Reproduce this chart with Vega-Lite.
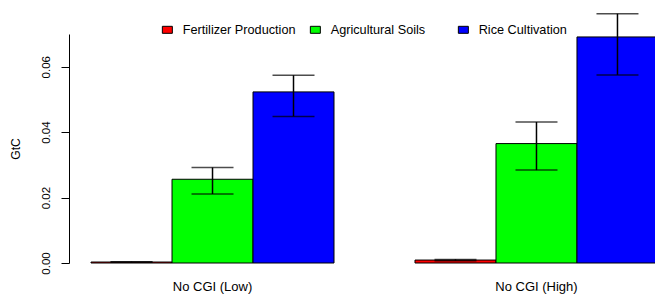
{
  "$schema": "https://vega.github.io/schema/vega-lite/v6.json",
  "autosize": "none",
  "width": 586,
  "height": 229,
  "padding": {"left": 69, "top": 34, "right": 0, "bottom": 34},
  "background": "white",
  "config": {
    "view": {"stroke": null},
    "font": "Liberation Sans",
    "axis": {"labelFont": "Liberation Sans", "titleFont": "Liberation Sans", "labelColor": "black", "titleColor": "black", "grid": false},
    "legend": {"labelFont": "Liberation Sans"}
  },
  "data": {
    "values": [
      {"scenario": "No CGI (Low)", "source": "Fertilizer Production", "value": 0.0003, "lo": 0.0002, "hi": 0.0004},
      {"scenario": "No CGI (Low)", "source": "Agricultural Soils", "value": 0.0256, "lo": 0.0211, "hi": 0.0292},
      {"scenario": "No CGI (Low)", "source": "Rice Cultivation", "value": 0.0523, "lo": 0.0448, "hi": 0.0574},
      {"scenario": "No CGI (High)", "source": "Fertilizer Production", "value": 0.0009, "lo": 0.0007, "hi": 0.0011},
      {"scenario": "No CGI (High)", "source": "Agricultural Soils", "value": 0.0365, "lo": 0.0284, "hi": 0.0431},
      {"scenario": "No CGI (High)", "source": "Rice Cultivation", "value": 0.0691, "lo": 0.0575, "hi": 0.0762}
    ]
  },
  "encoding": {
    "x": {
      "field": "scenario", "type": "nominal", "sort": ["No CGI (Low)", "No CGI (High)"],
      "scale": {"range": [0, 611], "paddingInner": 0.25, "paddingOuter": 0.068},
      "axis": {"title": null, "domain": false, "ticks": false, "labelAngle": 0, "labelFontSize": 13, "labelPadding": 17}
    },
    "xOffset": {
      "field": "source", "type": "nominal",
      "sort": ["Fertilizer Production", "Agricultural Soils", "Rice Cultivation"],
      "scale": {"paddingInner": 0, "paddingOuter": 0}
    }
  },
  "layer": [
    {
      "mark": {"type": "bar", "stroke": "black", "strokeWidth": 1, "clip": false},
      "encoding": {
        "y": {
          "field": "value", "type": "quantitative",
          "scale": {"domain": [0, 0.07], "nice": false, "zero": true},
          "axis": {
            "title": "GtC", "titleFontSize": 12, "titleFontWeight": "normal", "titlePadding": 18,
            "values": [0, 0.01, 0.02, 0.03, 0.04, 0.05, 0.06, 0.07],
            "format": ".2f",
            "labelExpr": "round(datum.value*100) % 2 == 0 ? datum.label : ''",
            "labelAngle": -90, "labelAlign": "center", "labelBaseline": "bottom",
            "labelFontSize": 11.5, "labelPadding": 10,
            "tickSize": 8, "tickColor": "black", "domainColor": "black", "tickWidth": 1, "domainWidth": 1
          }
        },
        "color": {
          "field": "source", "type": "nominal",
          "sort": ["Fertilizer Production", "Agricultural Soils", "Rice Cultivation"],
          "scale": {"domain": ["Fertilizer Production", "Agricultural Soils", "Rice Cultivation"], "range": ["#FF0000", "#00FF00", "#0000FF"]},
          "legend": {
            "title": null, "orient": "none", "direction": "horizontal",
            "legendX": 92, "legendY": -11, "gridAlign": "all",
            "symbolType": "M-1,-0.7H1V0.7H-1Z", "symbolSize": 100, "symbolStrokeColor": "black", "symbolStrokeWidth": 1,
            "labelFontSize": 12.7, "labelColor": "black", "labelOffset": 9, "columnPadding": 12, "padding": 0
          }
        }
      }
    },
    {
      "mark": {"type": "rule", "color": "black", "strokeWidth": 1.5, "clip": false},
      "encoding": {
        "y": {"field": "lo", "type": "quantitative"},
        "y2": {"field": "hi"}
      }
    },
    {
      "mark": {"type": "tick", "color": "black", "thickness": 1.5, "size": 42, "clip": false},
      "encoding": {"y": {"field": "lo", "type": "quantitative"}}
    },
    {
      "mark": {"type": "tick", "color": "black", "thickness": 1.5, "size": 42, "clip": false},
      "encoding": {"y": {"field": "hi", "type": "quantitative"}}
    }
  ]
}
